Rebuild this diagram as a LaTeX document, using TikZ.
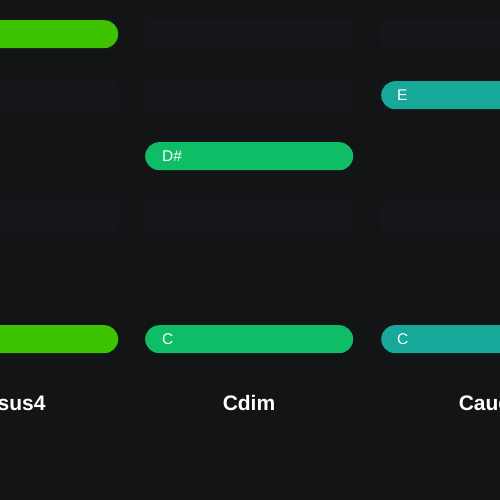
\documentclass[tikz,border=0pt]{standalone}
\usepackage{fontspec}
\setmainfont{Liberation Sans}
\definecolor{bg}{HTML}{121416}
\definecolor{slot}{HTML}{141619}
\definecolor{gA}{HTML}{3EC300}
\definecolor{gB}{HTML}{0FBD66}
\definecolor{gC}{HTML}{16A898}
\tikzset{
  slotbox/.style={anchor=north west, fill=slot, minimum width=208pt, minimum height=30pt, inner sep=0pt, rounded corners=3pt},
  bar/.style={anchor=north west, minimum width=208pt, minimum height=28pt, inner sep=0pt, rounded corners=14pt},
  note/.style={anchor=west, text=white, font=\fontsize{15.5}{15.5}\selectfont, inner sep=0pt},
  chord/.style={anchor=base, text=white, font=\bfseries\fontsize{21}{21}\selectfont, inner sep=0pt}
}
\begin{document}
\begin{tikzpicture}[x=1pt,y=-1pt]
\useasboundingbox (0,0) rectangle (500,500);
\fill[bg] (0,0) rectangle (500,500);
\begin{scope}
\clip (0,0) rectangle (500,500);
% placeholder slots
\foreach \c/\cx in {a/-90,b/145,c/381}{
  \foreach \r/\ry in {0/19,1/80,3/202}{
    \node[slotbox] (s\c\r) at (\cx,\ry) {};
  }
}
% column 1 : Csus4
\node[bar, fill=gA] (a0) at (-90,20) {};
\node[bar, fill=gA] (a5) at (-90,325) {};
% column 2 : Cdim
\node[bar, fill=gB] (b2) at (145,142) {};
\node[note] (tb2) at ([xshift=17pt]b2.west) {D\#};
\node[bar, fill=gB] (b5) at (145,325) {};
\node[note] (tb5) at ([xshift=17pt]b5.west) {C};
% column 3 : Caug
\node[bar, fill=gC] (c1) at (381,81) {};
\node[note] (tc1) at ([xshift=16pt]c1.west) {E};
\node[bar, fill=gC] (c5) at (381,325) {};
\node[note] (tc5) at ([xshift=16pt]c5.west) {C};
% chord names
\node[chord] (la) at (14,410) {Csus4};
\node[chord] (lb) at (249,410) {Cdim};
\node[chord] (lc) at (485,410) {Caug};
\end{scope}
\end{tikzpicture}
\end{document}
